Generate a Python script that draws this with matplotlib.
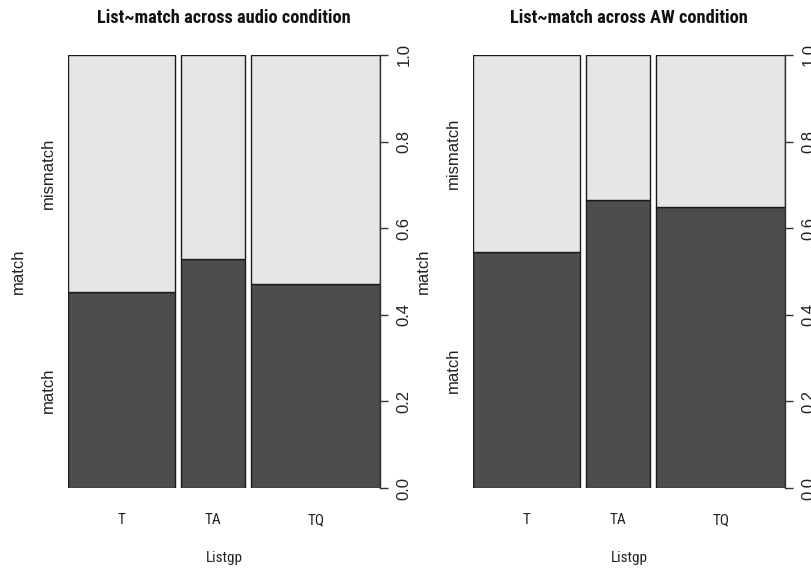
import matplotlib
matplotlib.use("Agg")
import matplotlib.pyplot as plt
from matplotlib import font_manager
from matplotlib.transforms import blended_transform_factory

# ---- data ----
groups = ["T", "TA", "TQ"]
group_share = [5, 3, 6]               # relative group sizes (bar widths)
match_audio = [0.452, 0.530, 0.470]   # proportion "match" per group
match_aw = [0.545, 0.664, 0.650]
levels = ["match", "mismatch"]
titles = ["List~match across audio condition", "List~match across AW condition"]
xlabel = "Listgp"
ylabel = "match"
yticks = [0.0, 0.2, 0.4, 0.6, 0.8, 1.0]
ytick_labels = ["0.0", "0.2", "0.4", "0.6", "0.8", "1.0"]

# ---- fonts: pick a narrow sans with a real bold face ----
ttf = font_manager.fontManager.ttflist
candidates = ["Liberation Sans Narrow", "Arial Narrow", "Roboto Condensed",
              "PT Sans Narrow", "Open Sans Condensed", "Archivo Narrow"]
narrow = None
for c in candidates:
    ws = [f.weight for f in ttf if f.name == c]
    ws = [w if isinstance(w, int) else 700 if w == "bold" else 400 for w in ws]
    if ws and max(ws) >= 700 and min(ws) <= 400:
        narrow = c
        break
if narrow is None:
    narrow = "Liberation Sans"
regular = "Liberation Sans"

dark, light = "#4D4D4D", "#E6E6E6"
edge = "#1a1a1a"
tc = "#222222"
off = 0.02

W, H = 811, 570
fig = plt.figure(figsize=(W / 100, H / 100), dpi=100)
renderer = fig.canvas.get_renderer()

# scale horizontal text so the title spans ~255 px as in the reference
probe = fig.text(0, 0, titles[0], fontfamily=narrow, fontweight="bold", fontsize=14.4)
pw = probe.get_window_extent(renderer).width
probe.remove()
title_fs = 14.4 * 255.0 / pw
h_fs = 12 * title_fs / 14.4


def panel(left_px, right_px, top_px, bottom_px, match, title):
    ax = fig.add_axes([left_px / W, 1 - bottom_px / H,
                       (right_px - left_px) / W, (bottom_px - top_px) / H])
    total = sum(group_share)
    widths = [g / total for g in group_share]
    lefts = []
    x = 0.0
    for w in widths:
        lefts.append(x)
        x += w + off
    mism = [1 - m for m in match]
    ax.bar(lefts, match, width=widths, align="edge", color=dark,
           edgecolor=edge, linewidth=1.0)
    ax.bar(lefts, mism, width=widths, bottom=match, align="edge", color=light,
           edgecolor=edge, linewidth=1.0)
    ax.set_xlim(0, 1 + off * (len(groups) - 1))
    ax.set_ylim(0, 1)
    for s in ["top", "left", "bottom"]:
        ax.spines[s].set_visible(False)
    ax.spines["right"].set_linewidth(1.0)
    ax.spines["right"].set_color("#333333")
    ax.set_xticks([])
    ax.yaxis.tick_right()
    ax.set_yticks(yticks)
    ax.set_yticklabels(ytick_labels, rotation=90, va="center",
                       fontfamily=regular, fontsize=12, color=tc)
    ax.tick_params(axis="y", length=6, width=1.0, color="#333333", pad=6)
    tr = blended_transform_factory(ax.transData, ax.transAxes)
    hpx = bottom_px - top_px
    wpx = right_px - left_px
    for l, w, g in zip(lefts, widths, groups):
        ax.text(l + w / 2, -32 / hpx, g, transform=tr, ha="center", va="center",
                fontfamily=narrow, fontsize=h_fs, color=tc)
    ax.text(0.5, -70 / hpx, xlabel, transform=ax.transAxes, ha="center",
            va="center", fontfamily=narrow, fontsize=h_fs, color=tc)
    tr2 = blended_transform_factory(ax.transAxes, ax.transData)
    ax.text(-20 / wpx, match[0] / 2, levels[0], transform=tr2, rotation=90,
            ha="center", va="center", fontfamily=regular, fontsize=12, color=tc)
    ax.text(-20 / wpx, match[0] + mism[0] / 2, levels[1], transform=tr2,
            rotation=90, ha="center", va="center", fontfamily=regular,
            fontsize=12, color=tc)
    ax.text(-50 / wpx, 0.5, ylabel, transform=ax.transAxes, rotation=90,
            ha="center", va="center", fontfamily=regular, fontsize=12, color=tc)
    ax.text(0.5, 1 + 37 / hpx, title, transform=ax.transAxes, ha="center",
            va="center", fontfamily=narrow, fontweight="bold",
            fontsize=title_fs, color="#111111")
    return ax


panel(68, 380, 55, 488, match_audio, titles[0])
panel(473, 785, 55, 488, match_aw, titles[1])

fig.savefig("out.png", dpi=100, facecolor="white")
